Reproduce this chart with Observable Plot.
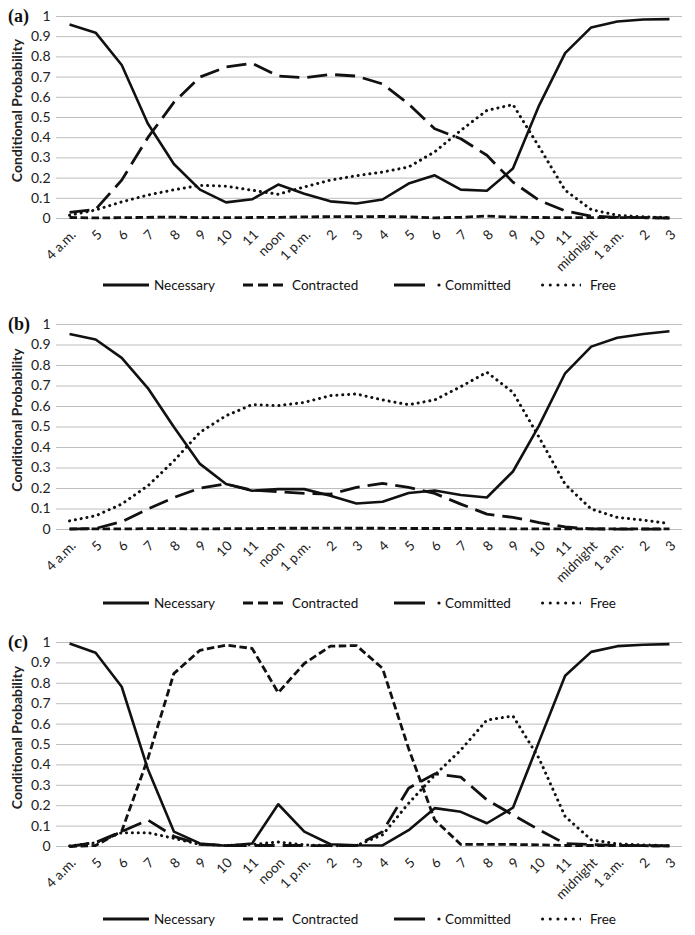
<!DOCTYPE html>
<html><head><meta charset="utf-8">
<script src="https://cdn.jsdelivr.net/npm/d3@7"></script>
<script src="https://cdn.jsdelivr.net/npm/@observablehq/plot@0.6"></script>
<style>
body{margin:0;background:#fff;}
#root{position:relative;width:695px;height:935px;font-family:Lato,"Open Sans",sans-serif;overflow:hidden;}
.panel{position:absolute;left:0;}
.tag{position:absolute;left:8px;font-family:"Liberation Serif","DejaVu Serif",serif;font-weight:bold;font-size:18px;line-height:18px;color:#111;}
.legend{position:absolute;left:0;width:695px;height:20px;font-size:13.5px;color:#111;}
.legend span{position:absolute;top:0;line-height:20px;white-space:nowrap;}
.legend svg{position:absolute;top:0;}
</style>
</head><body><div id="root"></div>
<script>
const labels = ["4 a.m.","5","6","7","8","9","10","11","noon","1 p.m.","2","3","4","5","6","7","8","9","10","11","midnight","1 a.m.","2","3"];
const seriesNames = ["Necessary","Contracted","Committed","Free"];
const yTicks = [0,0.1,0.2,0.3,0.4,0.5,0.6,0.7,0.8,0.9,1];
const yTitle = "Conditional Probability";

// Panel (a)
const necessaryA  = [0.96,0.92,0.76,0.47,0.27,0.143,0.08,0.095,0.168,0.123,0.085,0.074,0.094,0.173,0.214,0.143,0.137,0.247,0.559,0.819,0.946,0.975,0.985,0.987];
const contractedA = [0.005,0.003,0.004,0.006,0.007,0.004,0.004,0.005,0.006,0.008,0.009,0.009,0.01,0.008,0.003,0.006,0.012,0.007,0.005,0.004,0.004,0.004,0.004,0.003];
const committedA  = [0.03,0.045,0.19,0.40,0.575,0.70,0.75,0.768,0.705,0.697,0.713,0.705,0.666,0.567,0.444,0.395,0.313,0.18,0.09,0.038,0.012,0.006,0.004,0.002];
const freeA       = [0.016,0.042,0.082,0.116,0.142,0.164,0.16,0.14,0.12,0.156,0.19,0.212,0.23,0.255,0.33,0.436,0.535,0.564,0.355,0.14,0.044,0.016,0.008,0.005];

// Panel (b)
const necessaryB  = [0.954,0.927,0.837,0.69,0.50,0.32,0.222,0.189,0.197,0.197,0.165,0.127,0.135,0.178,0.19,0.168,0.156,0.283,0.507,0.762,0.892,0.935,0.954,0.967];
const contractedB = [0.003,0.003,0.003,0.004,0.004,0.003,0.004,0.004,0.006,0.006,0.007,0.006,0.006,0.005,0.005,0.005,0.004,0.003,0.003,0.003,0.003,0.003,0.003,0.003];
const committedB  = [0.002,0.005,0.038,0.1,0.156,0.202,0.222,0.192,0.184,0.176,0.173,0.205,0.225,0.205,0.176,0.124,0.075,0.059,0.034,0.013,0.003,0.002,0.002,0.002];
const freeB       = [0.042,0.067,0.124,0.213,0.335,0.474,0.555,0.609,0.604,0.62,0.653,0.661,0.632,0.609,0.632,0.697,0.767,0.669,0.45,0.221,0.1,0.059,0.046,0.029];

// Panel (c)
const necessaryC  = [0.995,0.95,0.783,0.38,0.073,0.015,0.004,0.015,0.207,0.073,0.011,0.006,0.005,0.08,0.188,0.17,0.114,0.19,0.514,0.837,0.954,0.982,0.989,0.992];
const contractedC = [0.0,0.005,0.075,0.43,0.848,0.962,0.987,0.971,0.754,0.897,0.982,0.985,0.873,0.48,0.13,0.01,0.01,0.01,0.008,0.005,0.005,0.005,0.004,0.003];
const committedC  = [0.0,0.02,0.073,0.13,0.05,0.01,0.005,0.005,0.005,0.005,0.004,0.004,0.073,0.286,0.356,0.34,0.229,0.155,0.082,0.014,0.01,0.005,0.004,0.003];
const freeC       = [0.003,0.018,0.068,0.068,0.04,0.01,0.005,0.01,0.022,0.008,0.004,0.005,0.057,0.212,0.35,0.473,0.62,0.64,0.432,0.147,0.033,0.013,0.008,0.003];

const lineStyles = [
  {strokeWidth:2.6, strokeDasharray:null, strokeLinecap:"butt"},
  {strokeWidth:2.8, strokeDasharray:"7.5,3.5", strokeLinecap:"butt"},
  {strokeWidth:2.8, strokeDasharray:"20,8", strokeLinecap:"butt"},
  {strokeWidth:3, strokeDasharray:"0.1,5.8", strokeLinecap:"round"}
];

const panels = [
  {tag:"(a)", top:0,   plotH:202, legendY:285, series:[necessaryA,contractedA,committedA,freeA]},
  {tag:"(b)", top:308, plotH:205, legendY:603, series:[necessaryB,contractedB,committedB,freeB]},
  {tag:"(c)", top:626, plotH:204, legendY:919, series:[necessaryC,contractedC,committedC,freeC]}
];

const root = document.getElementById("root");
const mT = 16, mB = 54;

for (const p of panels) {
  const chart = Plot.plot({
    width: 695, height: mT + p.plotH + mB,
    marginTop: mT, marginBottom: mB, marginLeft: 56, marginRight: 13,
    style: {fontFamily: "Lato, 'Open Sans', sans-serif", fontSize: "14px", color: "#222", background: "white", overflow: "visible"},
    x: {domain: [-0.5, 23.5]},
    y: {domain: [0, 1]},
    marks: [
      Plot.gridY(yTicks, {stroke: "#bdbdbd", strokeOpacity: 1, strokeWidth: 1}),
      Plot.axisY(yTicks, {tickSize: 0, tickPadding: 6, tickFormat: d => String(+d.toFixed(1)), label: null, fontSize: 14}),
      Plot.axisX(d3.range(24), {tickSize: 0, tickRotate: -45, tickPadding: 4, dx: 4, dy: 10, tickFormat: i => labels[i], label: null, fontSize: 13.5}),
      Plot.text([yTitle], {frameAnchor: "left", text: d => d, rotate: -90, dx: -39, dy: -7, fontWeight: "bold", fontSize: 14, textAnchor: "middle", lineAnchor: "middle"}),
      ...p.series.map((vals, k) => Plot.line(vals, {
        x: (d, i) => i, y: d => d, stroke: "#111", strokeLinejoin: "round", ...lineStyles[k]
      }))
    ]
  });
  const wrap = document.createElement("div");
  wrap.className = "panel";
  wrap.style.top = p.top + "px";
  wrap.appendChild(chart);
  root.appendChild(wrap);

  const tag = document.createElement("div");
  tag.className = "tag";
  tag.style.top = (p.top + mT - 9) + "px";
  tag.textContent = p.tag;
  root.appendChild(tag);

  // legend
  const lg = document.createElement("div");
  lg.className = "legend";
  lg.style.top = (p.legendY - 10) + "px";
  const items = [
    {x:103, w:46, tx:154, k:0},
    {x:243, w:40, tx:292, k:1},
    {x:394, w:48, tx:445, k:2},
    {x:541, w:40, tx:590, k:3}
  ];
  for (const it of items) {
    const svg = d3.create("svg").attr("width", it.w).attr("height", 20).style("left", it.x + "px");
    if (it.k === 0) {
      svg.append("line").attr("x1",0).attr("x2",it.w).attr("y1",10).attr("y2",10).attr("stroke","#111").attr("stroke-width",3);
    } else if (it.k === 1) {
      svg.append("line").attr("x1",0).attr("x2",it.w).attr("y1",10).attr("y2",10).attr("stroke","#111").attr("stroke-width",3).attr("stroke-dasharray","10,5");
    } else if (it.k === 2) {
      svg.append("line").attr("x1",0).attr("x2",31).attr("y1",10).attr("y2",10).attr("stroke","#111").attr("stroke-width",3);
      svg.append("circle").attr("cx",45).attr("cy",10).attr("r",1.6).attr("fill","#111");
    } else {
      svg.append("line").attr("x1",1.5).attr("x2",it.w).attr("y1",10).attr("y2",10).attr("stroke","#111").attr("stroke-width",3).attr("stroke-linecap","round").attr("stroke-dasharray","0.1,7.6");
    }
    lg.appendChild(svg.node());
    const sp = document.createElement("span");
    sp.style.left = it.tx + "px";
    sp.textContent = seriesNames[it.k];
    lg.appendChild(sp);
  }
  root.appendChild(lg);
}
</script>
</body></html>
